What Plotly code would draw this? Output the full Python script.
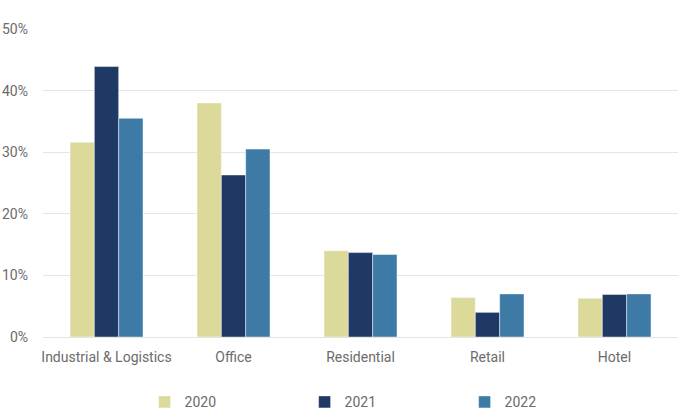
import plotly.graph_objects as go

categories = ["Industrial & Logistics", "Office", "Residential", "Retail", "Hotel"]
years = ["2020", "2021", "2022"]
values_2020 = [31.6, 38.0, 14.0, 6.4, 6.3]
values_2021 = [43.9, 26.3, 13.7, 4.0, 6.9]
values_2022 = [35.5, 30.5, 13.4, 7.0, 7.0]
colors = ["#DCDA9A", "#1F3864", "#3D7AA6"]
series = [values_2020, values_2021, values_2022]

fig = go.Figure()
for name, vals, col in zip(years, series, colors):
    fig.add_trace(go.Bar(
        x=categories, y=vals, name=name,
        marker=dict(color=col, line=dict(color="rgba(255,255,255,0.45)", width=1)),
    ))

font_family = "Roboto, Inter, sans-serif"
fig.update_layout(
    width=680, height=419,
    margin=dict(l=43, r=2, t=29, b=82, autoexpand=False),
    paper_bgcolor="white", plot_bgcolor="white",
    barmode="group", bargap=0.425, bargroupgap=0,
    font=dict(family=font_family, size=14, color="#6B6B6B"),
    showlegend=True,
    legend=dict(
        orientation="h", x=0.16, xanchor="left", y=-0.212, yanchor="middle",
        entrywidth=115, entrywidthmode="pixels",
        itemwidth=30, font=dict(size=14, color="#6B6B6B"),
        traceorder="normal",
    ),
)
fig.update_xaxes(showgrid=False, showline=False, ticks="", ticklabelstandoff=10)
fig.update_yaxes(
    range=[0, 50], dtick=10, ticksuffix="%",
    showgrid=True, gridcolor="#E2E6E8", gridwidth=1,
    zeroline=True, zerolinecolor="#E2E6E8", zerolinewidth=1,
    showline=False, ticks="", ticklabelstandoff=14,
)
fig.write_html("out.html")
